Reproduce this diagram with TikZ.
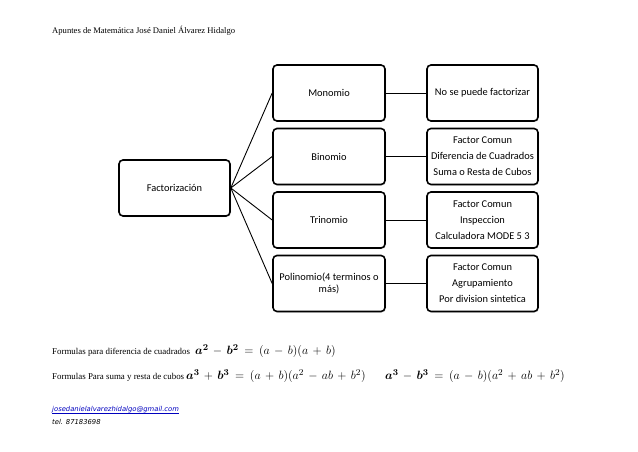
\documentclass[tikz,border=0pt]{standalone}
\usepackage{fontspec}
\usepackage{amsmath}
\usepackage{bm}
\setmainfont{Carlito}
\newfontfamily\smallserif{Liberation Serif}
\newfontfamily\mailfont{DejaVu Sans}
\usetikzlibrary{shadows}
\newcommand{\wide}{\medmuskip=6.5mu plus 2mu minus 2mu\thickmuskip=8.5mu plus 3mu}
\begin{document}
\begin{tikzpicture}[x=1pt,y=-1pt,
  box/.style={draw=black, line width=1.6pt, rounded corners=4pt, fill=white,
    minimum width=111pt, minimum height=56pt, align=center, inner sep=1pt,
    font=\fontsize{10.4}{16}\selectfont,
    drop shadow={opacity=0.25, shadow xshift=1pt, shadow yshift=-1pt}},
  link/.style={line width=0.9pt, black},
  small/.style={font=\smallserif\fontsize{8.9}{10}\selectfont, anchor=west, inner sep=0pt},
  mathtxt/.style={font=\fontsize{12.3}{14}\selectfont\wide, anchor=west, inner sep=0pt},
  mail/.style={font=\mailfont\itshape\fontsize{6.8}{8}\selectfont, anchor=west, inner sep=0pt}]
\useasboundingbox (0,0) rectangle (638,452);
\node[small, font=\smallserif\fontsize{8.6}{10}\selectfont] (hdr) at (52,31) {Apuntes de Matemática José Daniel Álvarez Hidalgo};

\node[box] (fac) at (174.5,188) {Factorización};
\node[box, minimum width=112pt] (mon) at (329,93) {Monomio};
\node[box, minimum width=112pt] (bin) at (329,156.5) {Binomio};
\node[box, minimum width=112pt] (tri) at (329,220) {Trinomio};
\node[box, minimum width=112pt] (pol) at (329,283.5) {Polinomio(4 terminos o\\[-4pt]más)};

\node[box] (r1) at (482.5,93) {No se puede factorizar};
\node[box] (r2) at (482.5,156.5) {Factor Comun\\Diferencia de Cuadrados\\Suma o Resta de Cubos};
\node[box] (r3) at (482.5,220) {Factor Comun\\Inspeccion\\Calculadora MODE 5 3};
\node[box] (r4) at (482.5,283.5) {Factor Comun\\Agrupamiento\\Por division sintetica};

\foreach \m in {mon,bin,tri,pol} \draw[link] (fac.east) -- (\m.west);
\draw[link] (mon) -- (r1);
\draw[link] (bin) -- (r2);
\draw[link] (tri) -- (r3);
\draw[link] (pol) -- (r4);

\node[small] (l1) at (52,352) {Formulas para diferencia de cuadrados};
\node[mathtxt] (f1) at (195,351) {$\bm{a^2}-\bm{b^2}=(a-b)(a+b)$};
\node[small] (l2) at (52,377) {Formulas Para suma y resta de cubos};
\node[mathtxt] (f2) at (186,376) {$\bm{a^3}+\bm{b^3}=(a+b)(a^2-ab+b^2)$};
\node[mathtxt] (f3) at (385,376) {$\bm{a^3}-\bm{b^3}=(a-b)(a^2+ab+b^2)$};

\node[mail, text=blue!75!black] (email) at (52,410) {\underline{josedanielalvarezhidalgo@gmail.com}};
\node[mail] (tel) at (52,422) {tel. 87183698};
\end{tikzpicture}
\end{document}
